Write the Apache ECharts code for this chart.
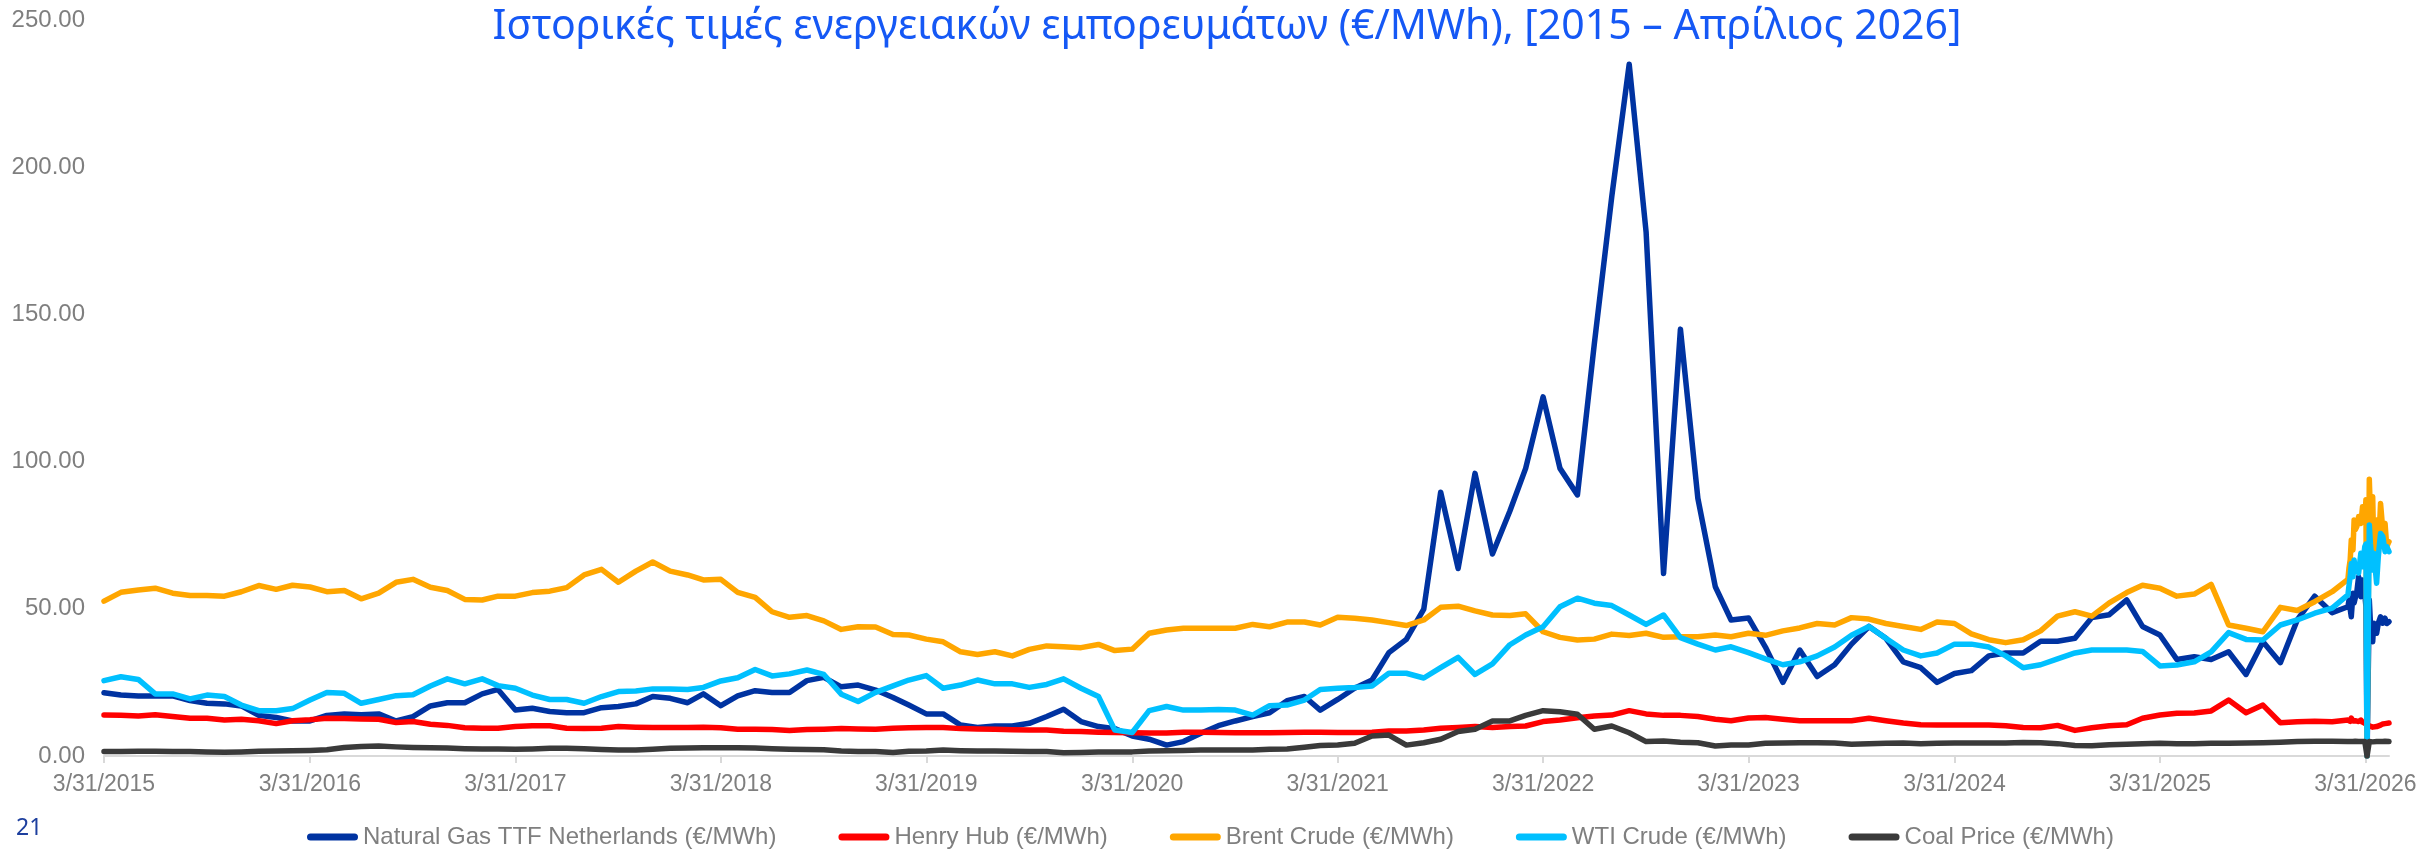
<!DOCTYPE html>
<html><head><meta charset="utf-8">
<script src="https://cdn.jsdelivr.net/npm/echarts@6/dist/echarts.min.js"></script>
<style>html,body{margin:0;padding:0;background:#fff}#c{width:2436px;height:850px}</style>
</head><body><div id="c"></div>
<script>
// ---------- DATA ----------
const titleText = 'Ιστορικές τιμές ενεργειακών εμπορευμάτων (€/MWh), [2015 – Απρίλιος 2026]';
const pageNumber = '21';
const seriesNames = ['Natural Gas TTF Netherlands (€/MWh)', 'Henry Hub (€/MWh)', 'Brent Crude (€/MWh)', 'WTI Crude (€/MWh)', 'Coal Price (€/MWh)'];
const xTickLabels = ['3/31/2015','3/31/2016','3/31/2017','3/31/2018','3/31/2019','3/31/2020','3/31/2021','3/31/2022','3/31/2023','3/31/2024','3/31/2025','3/31/2026'];
const yTicks = [0, 50, 100, 150, 200, 250];
// monthly (month-end) observations, March 2015 .. February 2026
const firstMonthYear = 2015, firstMonthIndex = 2, monthCount = 132;

const gasTTF = [
21.5,20.7,20.4,20.4,20.4,18.8,17.9,17.7,17.0,13.8,13.1,11.9,
11.9,13.8,14.3,14.0,14.3,11.9,13.4,17.0,18.1,18.1,21.1,22.6,
15.6,16.2,15.1,14.7,14.7,16.4,16.8,17.7,20.2,19.6,18.1,21.1,
17.1,20.4,22.2,21.6,21.6,25.6,26.7,23.5,24.1,22.4,19.9,17.3,
14.3,14.3,10.5,9.7,10.2,10.2,11.1,13.4,15.9,11.7,10.0,9.3,
6.8,5.7,3.7,4.9,7.7,10.3,11.9,13.4,14.7,18.8,20.2,15.6,
19.2,23.0,25.8,35.1,39.6,49.9,89.6,63.7,96.0,68.6,83.2,97.7,
122.0,97.7,88.7,140.0,190.0,235.0,178.0,62.0,145.0,87.5,57.5,46.2,
46.9,37.0,25.0,36.0,27.0,31.0,38.0,44.0,40.0,32.0,30.0,25.0,
28.0,29.0,34.0,35.0,35.0,39.0,39.0,40.0,47.0,48.0,53.0,44.0,
41.1,32.8,33.7,32.8,35.4,27.7,38.8,31.7,46.2,54.3,48.7,50.7];

const henryHub = [
13.9,13.8,13.6,14.0,13.4,12.8,12.8,12.2,12.5,12.0,11.0,12.0,
12.3,12.8,12.7,12.6,12.5,11.4,11.7,10.8,10.4,9.6,9.4,9.4,
10.0,10.3,10.3,9.4,9.3,9.4,10.0,9.8,9.7,9.7,9.7,9.8,
9.6,9.1,9.1,9.0,8.7,9.0,9.1,9.3,9.2,9.1,9.4,9.6,
9.7,9.7,9.3,9.2,9.1,8.9,8.8,8.8,8.4,8.3,8.1,8.0,
7.9,7.8,7.8,8.1,8.1,8.0,7.9,7.9,7.9,8.0,8.1,8.1,
8.0,8.0,8.1,8.5,8.5,8.8,9.4,9.7,10.0,9.7,10.0,10.2,
11.7,12.2,13.0,13.6,13.9,15.4,14.3,13.8,13.8,13.4,12.5,12.0,
12.9,13.1,12.5,12.0,12.0,12.0,12.0,12.8,12.0,11.2,10.6,10.5,
10.5,10.5,10.5,10.3,9.7,9.6,10.4,8.7,9.6,10.3,10.6,12.8,
13.9,14.5,14.6,15.3,19.0,14.7,17.3,11.3,11.6,11.8,11.6,12.2];

const brentCrude = [
52.6,55.6,56.4,57.0,55.3,54.5,54.5,54.3,55.8,57.9,56.6,58.0,
57.4,55.8,56.2,53.4,55.3,59.0,60.0,57.3,56.2,53.2,53.0,54.3,
54.3,55.5,56.0,57.2,61.5,63.4,59.0,62.8,65.9,62.8,61.5,59.8,
60.0,55.6,53.9,49.0,47.1,47.7,45.9,43.0,43.9,43.8,41.3,41.1,
39.7,38.8,35.4,34.5,35.4,34.0,36.2,37.4,37.1,36.8,37.9,35.8,
36.3,41.7,42.8,43.4,43.4,43.4,43.4,44.7,43.9,45.5,45.5,44.5,
47.1,46.8,46.2,45.3,44.3,46.2,50.5,50.9,49.3,47.9,47.7,48.3,
42.2,40.3,39.4,39.7,41.4,40.9,41.7,40.3,40.5,40.5,41.1,40.5,
41.7,41.0,42.5,43.5,45.0,44.5,47.0,46.5,45.0,44.0,43.0,45.5,
45.0,41.5,39.5,38.5,39.5,42.5,47.5,49.0,47.5,52.0,55.5,58.0,
57.0,54.3,55.0,58.3,44.5,43.4,42.2,50.5,49.4,52.4,55.8,60.0];

const wtiCrude = [
25.6,26.9,26.0,21.1,21.1,19.4,20.7,20.2,17.3,15.4,15.4,16.1,
19.0,21.6,21.3,17.9,19.2,20.5,20.8,23.8,26.2,24.5,26.2,23.9,
23.0,20.7,19.2,19.2,17.9,20.2,21.9,22.1,22.8,22.8,22.6,23.3,
25.5,26.6,29.4,27.2,27.9,29.2,27.7,21.0,18.5,21.6,23.8,25.8,
27.3,23.0,24.1,25.8,24.5,24.5,23.3,24.3,26.2,23.0,20.2,8.8,
8.0,15.4,16.8,15.6,15.6,15.8,15.6,13.9,17.1,17.3,19.0,22.6,
23.0,23.3,23.8,28.1,28.1,26.5,30.0,33.5,27.7,31.3,37.8,41.1,
43.9,50.7,53.6,51.9,51.1,47.9,44.7,47.9,40.2,38.0,36.0,37.1,
35.1,33.0,31.0,32.0,34.0,37.0,41.0,44.0,40.0,36.0,34.0,35.0,
38.0,38.0,37.0,34.0,30.0,31.0,33.0,35.0,36.0,36.0,36.0,35.5,
30.6,30.9,32.0,35.4,41.9,39.6,39.4,44.5,46.2,48.5,50.2,54.7];

const coalPrice = [
1.5,1.5,1.6,1.6,1.5,1.5,1.4,1.3,1.4,1.6,1.7,1.8,
1.9,2.1,2.9,3.2,3.4,3.1,2.9,2.8,2.7,2.5,2.4,2.4,
2.3,2.4,2.6,2.6,2.5,2.2,2.0,2.0,2.3,2.6,2.7,2.8,
2.8,2.8,2.7,2.5,2.3,2.2,2.1,1.7,1.5,1.5,1.2,1.6,
1.7,2.0,1.8,1.7,1.7,1.6,1.5,1.5,1.1,1.2,1.4,1.4,
1.4,1.7,1.8,1.9,2.0,2.0,2.0,2.0,2.3,2.4,3.0,3.6,
3.7,4.3,6.8,7.1,3.7,4.5,5.7,8.3,9.1,11.9,11.9,13.8,
15.4,15.0,14.2,9.1,10.2,7.9,4.9,5.1,4.7,4.5,3.4,3.7,
3.7,4.3,4.4,4.5,4.5,4.4,4.0,4.2,4.3,4.4,4.2,4.3,
4.4,4.4,4.4,4.4,4.6,4.5,4.2,3.6,3.5,3.8,4.0,4.2,
4.3,4.2,4.2,4.3,4.3,4.4,4.5,4.7,4.9,5.0,5.0,4.9];

// daily observations, March - May 2026
const dailyDates = ['2026-03-02','2026-03-04','2026-03-06','2026-03-09','2026-03-11','2026-03-13','2026-03-16','2026-03-19','2026-03-23','2026-03-26','2026-03-30','2026-04-01','2026-04-03','2026-04-07','2026-04-09','2026-04-13','2026-04-15','2026-04-20','2026-04-23','2026-04-27','2026-05-01','2026-05-05','2026-05-08','2026-05-12'];
const gasDaily   = [53.0,50.0,47.3,55.3,52.0,52.4,56.0,60.9,54.1,59.8,55.0,50.7,0,53.0,45.1,38.8,45.1,41.7,45.1,47.3,45.1,46.8,45.0,45.6];
const hhDaily    = [12.0,11.8,12.9,11.9,11.6,12.0,11.8,11.7,12.2,11.5,11.1,10.6,10.8,10.2,10.5,9.8,10.3,10.0,10.4,10.5,10.9,11.0,11.3,11.2];
const brentDaily = [64.0,66.5,73.4,70.0,80.2,76.8,78.0,81.3,79.0,84.7,80.2,87.0,0,94.0,82.4,88.1,70.0,80.2,69.0,85.8,76.8,79.0,71.1,72.8];
const wtiDaily   = [58.0,60.9,65.4,60.9,66.6,63.0,64.5,62.1,68.9,64.3,71.1,72.0,0,78.5,72.0,63.2,68.9,58.7,67.7,75.6,74.5,69.4,71.1,69.4];
const coalDaily  = [4.9,4.9,5.0,4.9,4.9,5.0,4.9,4.9,4.9,5.0,4.9,4.9,0,4.9,4.9,4.8,4.9,4.9,4.9,4.9,4.9,5.0,4.9,4.9];

const colors = ['#0033a1', '#ff0000', '#ffa600', '#00c0ff', '#3a3a3a'];

// ---------- BUILD ----------
const DAY = 86400000;
const t0 = Date.UTC(2015, 2, 31);
function dayOfUTC(t) { return (t - t0) / DAY; }
function dayOfISO(s) { const p = s.split('-').map(Number); return dayOfUTC(Date.UTC(p[0], p[1]-1, p[2])); }
function dayOfUS(s) { const p = s.split('/').map(Number); return dayOfUTC(Date.UTC(p[2], p[0]-1, p[1])); }

const monthDays = [];
for (let i = 0; i < monthCount; i++) {
  const mi = firstMonthIndex + i;
  const y = firstMonthYear + Math.floor(mi / 12), m = mi % 12;
  monthDays.push(dayOfUTC(Date.UTC(y, m + 1, 0)));
}
const dailyDays = dailyDates.map(dayOfISO);
const tickDays = xTickLabels.map(dayOfUS);
const xMax = dailyDays[dailyDays.length - 1];

function build(monthly, daily) {
  const out = monthly.map((v, i) => [monthDays[i], v]);
  daily.forEach((v, i) => out.push([dailyDays[i], v]));
  return out;
}
const allData = [
  build(gasTTF, gasDaily), build(henryHub, hhDaily), build(brentCrude, brentDaily),
  build(wtiCrude, wtiDaily), build(coalPrice, coalDaily)
];

const gray = '#7f7f7f';
const capsule = 'path://M3.5,0 L47.5,0 A3.5,3.5 0 0 1 47.5,7 L3.5,7 A3.5,3.5 0 0 1 3.5,0 Z';

const chart = echarts.init(document.getElementById('c'), null, { renderer: 'canvas' });
chart.setOption({
  animation: false,
  backgroundColor: '#ffffff',
  color: colors,
  grid: { left: 104, right: 47, top: 20, bottom: 94, containLabel: false },
  xAxis: {
    type: 'value', min: 0, max: xMax,
    splitLine: { show: false },
    axisLine: { show: true, lineStyle: { color: '#d9d9d9', width: 2 } },
    axisTick: { show: true, length: 7, lineStyle: { color: '#d9d9d9', width: 2 }, customValues: tickDays },
    axisLabel: {
      customValues: tickDays, margin: 17, color: gray, fontSize: 23, fontFamily: 'Liberation Sans',
      formatter: function (v) {
        let best = 0, bd = Infinity;
        tickDays.forEach((d, i) => { const dd = Math.abs(d - v); if (dd < bd) { bd = dd; best = i; } });
        return xTickLabels[best];
      }
    }
  },
  yAxis: {
    type: 'value', min: yTicks[0], max: yTicks[yTicks.length - 1], interval: 50,
    splitLine: { show: false }, axisLine: { show: false }, axisTick: { show: false },
    axisLabel: { margin: 19, color: gray, fontSize: 24, fontFamily: 'Liberation Sans',
      formatter: v => v.toFixed(2) }
  },
  legend: {
    data: seriesNames, left: 302, top: 820, icon: capsule, itemWidth: 51, itemHeight: 7, itemGap: 62,
    itemStyle: { borderWidth: 0 },
    textStyle: { color: gray, fontSize: 24, fontFamily: 'Liberation Sans' }
  },
  graphic: [
    { type: 'text', x: 1227, y: 7, style: { text: titleText, fill: '#1558f5', font: '41px "Noto Sans"', textAlign: 'center', textVerticalAlign: 'top' } },
    { type: 'text', x: 16, y: 817, style: { text: pageNumber, fill: '#1d3f9e', font: '23px "Noto Sans"', textAlign: 'left', textVerticalAlign: 'top' } }
  ],
  series: seriesNames.map((name, i) => ({
    name: name, type: 'line', data: allData[i], showSymbol: false, symbol: 'none',
    lineStyle: { width: 5.5, color: colors[i], join: 'round', cap: 'round' },
    itemStyle: { color: colors[i] }, z: 2 + i
  }))
});
</script></body></html>
